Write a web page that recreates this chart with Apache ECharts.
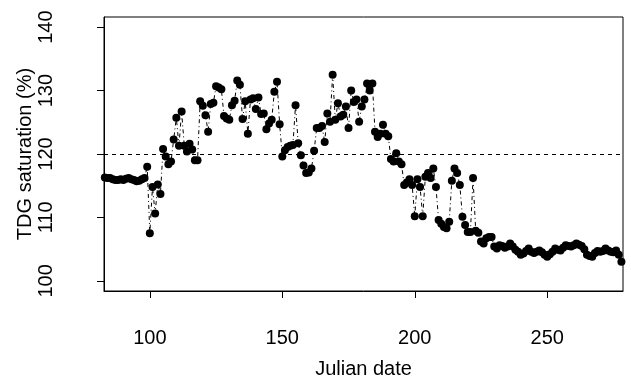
<!DOCTYPE html>
<html>
<head>
<meta charset="utf-8">
<script src="https://cdn.jsdelivr.net/npm/echarts@6/dist/echarts.min.js"></script>
<style>
  html, body { margin: 0; padding: 0; background: #fff; }
  #chart { width: 631px; height: 388px; }
</style>
</head>
<body>
<div id="chart"></div>
<script>
// daily TDG saturation readings
var julianDay = [
  83, 84, 85, 86, 87, 88, 89, 90, 91, 92, 93, 94, 95, 96, 97, 98, 99,
  100, 101, 102, 103, 104, 105, 106, 107, 108, 109, 110, 111, 112, 113, 114, 115, 116, 117, 118, 119,
  120, 121, 122, 123, 124, 125, 126, 127, 128, 129, 130, 131, 132, 133, 134, 135, 136, 137, 138, 139,
  140, 141, 142, 143, 144, 145, 146, 147, 148, 149, 150, 151, 152, 153, 154, 155, 156, 157, 158, 159,
  160, 161, 162, 163, 164, 165, 166, 167, 168, 169, 170, 171, 172, 173, 174, 175, 176, 177, 178, 179,
  180, 181, 182, 183, 184, 185, 186, 187, 188, 189, 190, 191, 192, 193, 194, 195, 196, 197, 198, 199,
  200, 201, 202, 203, 204, 205, 206, 207, 208, 209, 210, 211, 212, 213, 214, 215, 216, 217, 218, 219,
  220, 221, 222, 223, 224, 225, 226, 227, 228, 229, 230, 231, 232, 233, 234, 235, 236, 237, 238, 239,
  240, 241, 242, 243, 244, 245, 246, 247, 248, 249, 250, 251, 252, 253, 254, 255, 256, 257, 258, 259,
  260, 261, 262, 263, 264, 265, 266, 267, 268, 269, 270, 271, 272, 273, 274, 275, 276, 277, 278
];
var tdgSat = [
  116.3, 116.2, 116.2, 116.0, 115.9, 115.9, 116.0, 115.9, 116.1, 116.2, 116.0, 115.9, 115.7, 115.8, 116.0, 116.2, 118.0,
  107.5, 114.8, 110.6, 115.2, 113.7, 120.8, 119.6, 118.4, 118.8, 122.3, 125.7, 121.3, 126.7, 121.3, 120.4, 121.6, 120.7, 119.0, 119.0, 128.3,
  127.6, 126.1, 123.5, 127.9, 128.1, 130.7, 130.5, 130.2, 126.0, 125.6, 125.4, 127.7, 128.4, 131.6, 130.9, 125.5, 128.3, 123.2, 128.6, 128.8,
  127.1, 128.9, 126.3, 126.4, 123.9, 124.8, 125.4, 129.8, 131.4, 124.7, 119.6, 120.6, 121.1, 121.3, 121.4, 127.7, 121.7, 119.8, 118.2, 117.0,
  117.1, 117.7, 120.5, 124.1, 124.1, 124.4, 121.9, 126.4, 125.1, 132.5, 125.4, 128.0, 125.9, 126.2, 127.5, 124.1, 130.0, 128.2, 128.6, 125.1,
  127.5, 128.6, 131.1, 130.0, 131.1, 123.5, 122.7, 123.2, 124.6, 123.2, 122.8, 119.2, 118.8, 120.1, 118.8, 118.4, 115.1, 115.5, 116.0, 115.1,
  110.2, 116.0, 114.8, 110.2, 116.4, 117.0, 116.2, 117.7, 114.8, 109.6, 109.0, 108.5, 108.3, 109.3, 115.8, 117.7, 117.0, 115.1, 110.1, 108.8,
  107.7, 107.7, 116.2, 107.9, 107.6, 106.2, 105.9, 106.7, 106.9, 106.9, 105.4, 105.1, 105.6, 105.5, 105.2, 105.4, 105.9, 105.4, 104.9, 104.6,
  104.1, 104.3, 104.7, 105.1, 104.6, 104.4, 104.6, 104.8, 104.5, 104.1, 103.8, 104.2, 104.6, 105.1, 104.9, 104.8, 105.2, 105.6, 105.5, 105.4,
  105.6, 105.9, 105.7, 105.5, 105.0, 104.1, 103.9, 103.8, 104.4, 104.7, 104.6, 104.7, 105.1, 104.8, 104.6, 104.5, 104.8, 104.1, 103.0
];
var xTicks = [100, 150, 200, 250];
var yTicks = [100, 110, 120, 130, 140];
var threshold = 120;

var pts = julianDay.map(function (d, i) { return [d, tdgSat[i]]; });

var font = 'Liberation Sans, Arial, Helvetica, sans-serif';
var chart = echarts.init(document.getElementById('chart'), null, { renderer: 'canvas' });
chart.setOption({
  backgroundColor: '#fff',
  animation: false,
  grid: {
    left: 104, right: 8, top: 17, bottom: 97,
    show: true, borderColor: '#000', borderWidth: 1, backgroundColor: 'transparent'
  },
  xAxis: {
    type: 'value',
    min: 82.7, max: 278.6,
    name: 'Julian date',
    nameLocation: 'middle',
    nameGap: 68,
    nameMoveOverlap: false,
    nameTextStyle: { color: '#000', fontSize: 20, fontFamily: font },
    axisLine: { show: true, lineStyle: { color: '#000', width: 1 } },
    axisTick: { show: true, inside: false, length: 7, lineStyle: { color: '#000' }, customValues: xTicks },
    axisLabel: { color: '#000', fontSize: 20, fontFamily: font, margin: 37, customValues: xTicks },
    splitLine: { show: false }
  },
  yAxis: {
    type: 'value',
    min: 98.4, max: 141.6,
    name: 'TDG saturation (%)',
    nameLocation: 'middle',
    nameRotate: 90,
    nameGap: 69,
    nameMoveOverlap: false,
    nameTextStyle: { color: '#000', fontSize: 20, fontFamily: font },
    axisLine: { show: true, lineStyle: { color: '#000', width: 1 } },
    axisTick: { show: true, inside: false, length: 7, lineStyle: { color: '#000' }, customValues: yTicks },
    axisLabel: { color: '#000', fontSize: 20, fontFamily: font, margin: 48, rotate: 90, customValues: yTicks },
    splitLine: { show: false }
  },
  series: [{
    type: 'line',
    data: pts,
    clip: true,
    symbol: 'circle',
    symbolSize: 8,
    showSymbol: true,
    itemStyle: { color: '#000' },
    lineStyle: { color: '#000', width: 1, type: [1, 3, 4, 3] },
    markLine: {
      silent: true,
      symbol: 'none',
      label: { show: false },
      lineStyle: { color: '#000', width: 1, type: [4, 4] },
      data: [{ yAxis: threshold }]
    }
  }]
});
</script>
</body>
</html>
